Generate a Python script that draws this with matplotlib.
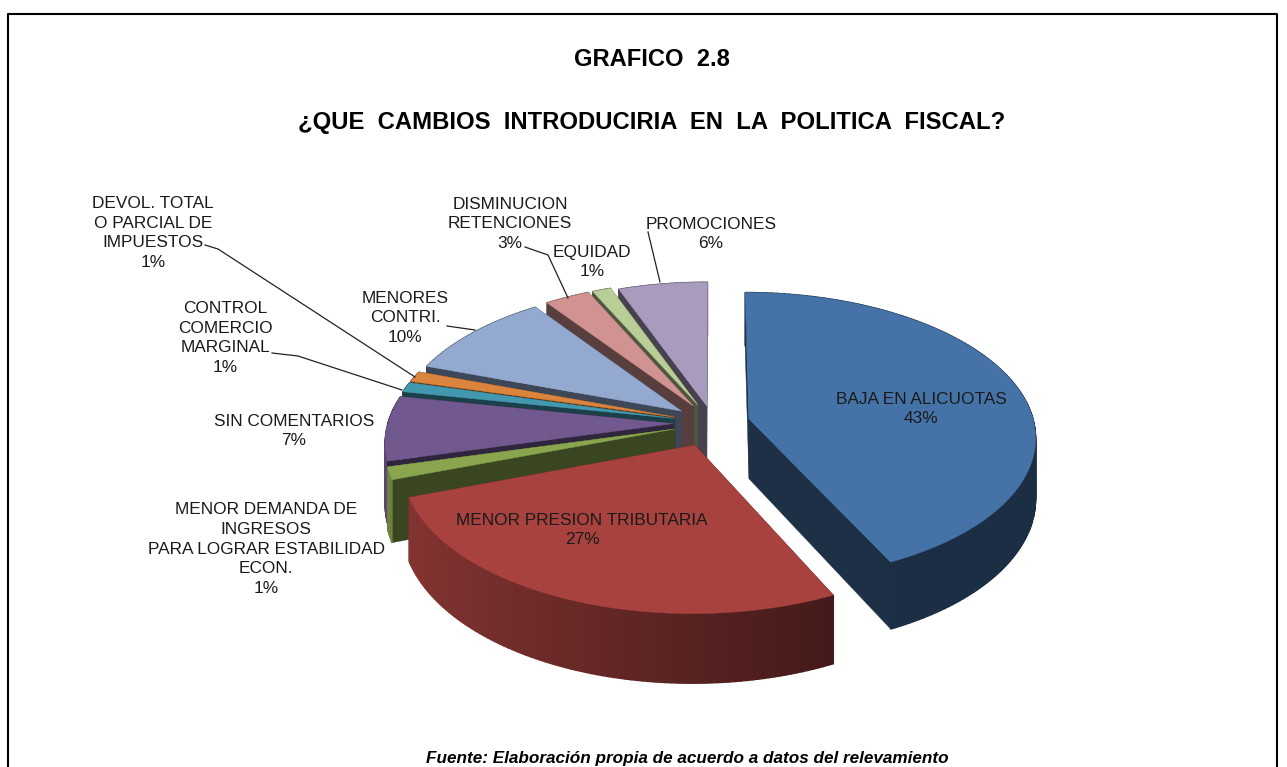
import numpy as np
import matplotlib
matplotlib.use("Agg")
import matplotlib.pyplot as plt
from matplotlib.patches import Polygon

plt.rcParams['font.family'] = ['Liberation Sans', 'DejaVu Sans']

# datos del grafico, en sentido horario desde las 12
labels = ["BAJA EN ALICUOTAS", "MENOR PRESION TRIBUTARIA",
          "MENOR DEMANDA DE\nINGRESOS\nPARA LOGRAR ESTABILIDAD\nECON.",
          "SIN COMENTARIOS", "CONTROL\nCOMERCIO\nMARGINAL",
          "DEVOL. TOTAL\nO PARCIAL DE\nIMPUESTOS", "MENORES\nCONTRI.",
          "DISMINUCION\nRETENCIONES", "EQUIDAD", "PROMOCIONES"]
# las etiquetas muestran estos valores redondeados
values = [42.9, 26.6, 1.4, 7.2, 1.1, 1.2, 9.8, 2.9, 1.2, 5.7]
colors = ["#4572A7", "#A8423F", "#89A54E", "#71588F", "#4198AF",
          "#DB843D", "#93A9CF", "#D19392", "#B9CD96", "#A99BBD"]
explode = [37, 47, 40, 40, 40, 40, 40, 40, 40, 35]

label_pos = [(921, 409), (582, 530), (266, 549), (294, 431), (225, 338),
             (153, 233), (405, 318), (510, 224), (592, 262), (711, 234)]

# leaders (inicio, codo, fin) en pixeles de la imagen
leaders = [[(205, 245), (218, 249), (415, 377)],
           [(272, 353), (298, 356), (402, 390)],
           [(447, 326), (475, 330)],
           [(525, 247), (548, 255), (568, 298)],
           [(648, 232), (660, 282)]]

# geometria de la torta
CX, CY = 713, 423
R = 285
SQUASH = 0.5
PERSP = 0.12
H = 60


def project(theta, r, e, mid, z=0.0):
    # theta en radianes, horario desde arriba; z hacia abajo
    X = e * np.sin(mid) + r * np.sin(theta)
    D = -(e * np.cos(mid) + r * np.cos(theta))
    s = 1 / (1 - PERSP * D / R)
    return CX + X * s, CY + SQUASH * D * s + z * s


def shade(col, f):
    return tuple(c * f for c in matplotlib.colors.to_rgb(col))


def draw_slice(ax, t0, t1, color, e):
    mid = (t0 + t1) / 2
    n = max(int(np.degrees(t1 - t0)), 2)
    th = np.linspace(t0, t1, n + 1)
    # caras de corte
    for t in (t0, t1):
        pts = [project(t, 0, e, mid), project(t, R, e, mid),
               project(t, R, e, mid, H), project(t, 0, e, mid, H)]
        ax.add_patch(Polygon(pts, fc=shade(color, 0.42), ec=shade(color, 0.42), lw=0.3))
    # pared exterior con degrade
    for a, b in zip(th[:-1], th[1:]):
        am = (a + b) / 2
        f = np.clip(0.52 - 0.28 * np.sin(am), 0.40, 0.85)
        if np.cos(am) > 0:
            f = 0.42
        pts = [project(a, R, e, mid), project(b, R, e, mid),
               project(b, R, e, mid, H), project(a, R, e, mid, H)]
        c = shade(color, f)
        ax.add_patch(Polygon(pts, fc=c, ec=c, lw=1.0))
    # cara superior
    xs, ys = project(th, R, e, mid)
    ax0, ay0 = project(mid, 0, e, mid)
    top = [(ax0, ay0)] + list(zip(xs, ys))
    ax.add_patch(Polygon(top, fc=color, ec=color, lw=0.3))


fig = plt.figure(figsize=(12.87, 7.67), dpi=100)
ax = fig.add_axes([0, 0, 1, 1])
ax.set_xlim(0, 1287)
ax.set_ylim(767, 0)
ax.axis("off")

# marco
ax.plot([7.5, 7.5, 1277, 1277], [767, 14, 14, 767], color="black", lw=1.5)

edges = np.radians(np.cumsum([0] + values) * 3.6)
# de atras hacia adelante
order = [0, 9, 8, 7, 6, 5, 4, 3, 2, 1]
for i in order:
    draw_slice(ax, edges[i], edges[i + 1], colors[i], explode[i])

for pts in leaders:
    ax.plot(*zip(*pts), color="#222222", lw=0.9)

for name, val, (x, y) in zip(labels, values, label_pos):
    ax.text(x, y, f"{name}\n{val:.0f}%", ha="center", va="center", fontsize=12.4,
            color="#1a1a1a", linespacing=1.4)

ax.text(652, 60, "GRAFICO  2.8", ha="center", va="center", fontsize=17.1, fontweight="bold")
ax.text(652, 123, "¿QUE  CAMBIOS  INTRODUCIRIA  EN  LA  POLITICA  FISCAL?", ha="center",
        va="center", fontsize=17.2, fontweight="bold")
ax.text(687, 758, "Fuente: Elaboración propia de acuerdo a datos del relevamiento", ha="center",
        va="center", fontsize=12.3, fontweight="bold", fontstyle="italic")

fig.savefig("out.png", dpi=100)
